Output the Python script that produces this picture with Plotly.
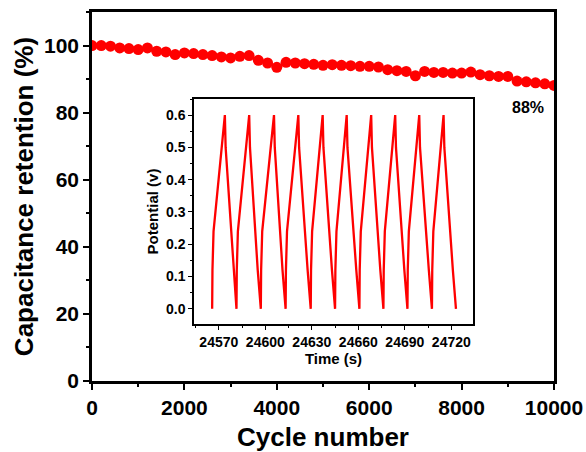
import plotly.graph_objects as go

# ---- main data: capacitance retention vs cycle number ----
cycles = [i * 200 for i in range(51)]
retention = [100.0, 100.0, 99.8, 99.3, 99.1, 98.8, 99.3, 98.3, 98.1, 97.3,
             97.8, 97.6, 97.3, 97.0, 96.6, 96.3, 96.8, 97.0, 95.6, 94.8,
             93.5, 95.0, 94.8, 94.6, 94.4, 94.1, 94.3, 94.1, 94.0, 93.8,
             93.8, 93.6, 92.8, 92.5, 92.3, 91.0, 92.3, 92.0, 92.0, 91.8,
             91.8, 92.1, 91.3, 91.0, 90.8, 90.8, 89.4, 89.2, 88.9, 88.6,
             88.1]

# ---- inset data: GCD curves ----
time_s = [24565.7, 24565.9, 24566.6, 24573.9, 24574.4, 24579.4, 24581.4,
          24581.6, 24582.3, 24589.6, 24590.1, 24595.1, 24597.1,
          24597.3, 24598.0, 24605.6, 24606.1, 24611.1, 24613.1,
          24613.3, 24614.0, 24621.3, 24621.8, 24627.3, 24629.3,
          24629.5, 24630.2, 24637.0, 24637.5, 24643.0, 24645.0,
          24645.2, 24645.9, 24652.5, 24653.0, 24658.7, 24660.7,
          24660.9, 24661.6, 24668.3, 24668.8, 24674.2, 24676.2,
          24676.4, 24677.1, 24683.8, 24684.3, 24689.7, 24691.7,
          24691.9, 24692.6, 24699.3, 24699.8, 24705.5, 24707.5,
          24707.7, 24708.4, 24715.0, 24715.5, 24721.0, 24723.0]
potential = [0.0, 0.12, 0.24, 0.60, 0.50, 0.12, 0.0,
             0.12, 0.24, 0.60, 0.50, 0.12, 0.0,
             0.12, 0.24, 0.60, 0.50, 0.12, 0.0,
             0.12, 0.24, 0.60, 0.50, 0.12, 0.0,
             0.12, 0.24, 0.60, 0.50, 0.12, 0.0,
             0.12, 0.24, 0.60, 0.50, 0.12, 0.0,
             0.12, 0.24, 0.60, 0.50, 0.12, 0.0,
             0.12, 0.24, 0.60, 0.50, 0.12, 0.0,
             0.12, 0.24, 0.60, 0.50, 0.12, 0.0,
             0.12, 0.24, 0.60, 0.50, 0.12, 0.0]

x_ticks = [0, 2000, 4000, 6000, 8000, 10000]
x_tick_labels = ["0", "2000", "4000", "6000", "8000", "10000"]
y_ticks = [0, 20, 40, 60, 80, 100]
y_tick_labels = ["0", "20", "40", "60", "80", "100"]
inset_x_ticks = [24570, 24600, 24630, 24660, 24690, 24720]
inset_x_labels = ["24570", "24600", "24630", "24660", "24690", "24720"]
inset_y_ticks = [0.0, 0.1, 0.2, 0.3, 0.4, 0.5, 0.6]
inset_y_labels = ["0.0", "0.1", "0.2", "0.3", "0.4", "0.5", "0.6"]

RED = "#ff0000"
FONT = "Liberation Sans"

fig = go.Figure()
fig.add_trace(go.Scatter(
    x=cycles, y=retention, mode="lines+markers",
    line=dict(color=RED, width=2),
    marker=dict(color=RED, size=11),
    xaxis="x", yaxis="y", showlegend=False, cliponaxis=True))
fig.add_trace(go.Scatter(
    x=time_s, y=potential, mode="lines",
    line=dict(color=RED, width=2.3),
    xaxis="x2", yaxis="y2", showlegend=False))

tick_font = dict(family=FONT, size=21, color="black", weight="bold")
title_font = dict(family=FONT, size=26, color="black", weight="bold")
in_tick_font = dict(family=FONT, size=14, color="black", weight="bold")
in_title_font = dict(family=FONT, size=15, color="black", weight="bold")

fig.update_layout(
    width=586, height=452,
    margin=dict(l=92, r=32, t=12, b=71),
    paper_bgcolor="white", plot_bgcolor="white",
    template=None,
    xaxis=dict(domain=[0, 1], range=[0, 10000], tickvals=x_ticks, ticktext=x_tick_labels,
               showline=True, linewidth=2.5, linecolor="black", mirror=True,
               ticks="outside", ticklen=6, tickwidth=2, tickcolor="black",
               minor=dict(dtick=1000, ticks="outside", ticklen=3, tickwidth=2, tickcolor="black"),
               showgrid=False, zeroline=False, tickfont=tick_font,
               title=dict(text="Cycle number", font=title_font, standoff=14),
               automargin=False),
    yaxis=dict(domain=[0, 1], range=[0, 110], tickvals=y_ticks, ticktext=y_tick_labels,
               showline=True, linewidth=2.5, linecolor="black", mirror=True,
               ticks="outside", ticklen=6, tickwidth=2, tickcolor="black",
               minor=dict(dtick=10, ticks="outside", ticklen=3, tickwidth=2, tickcolor="black"),
               showgrid=False, zeroline=False, tickfont=tick_font,
               title=dict(text="Capacitance retention (%)", font=title_font, standoff=3),
               automargin=False),
    xaxis2=dict(domain=[0.2208, 0.8247], anchor="y2", range=[24554, 24734],
                tickvals=inset_x_ticks, ticktext=inset_x_labels,
                showline=True, linewidth=1.5, linecolor="black", mirror=True,
                ticks="outside", ticklen=4, tickwidth=1.3, tickcolor="black",
                minor=dict(dtick=15, ticks="outside", ticklen=2.5, tickwidth=1.3, tickcolor="black"),
                showgrid=False, zeroline=False, tickfont=in_tick_font,
                title=dict(text="Time (s)", font=in_title_font, standoff=3),
                automargin=False),
    yaxis2=dict(domain=[0.1545, 0.7642], anchor="x2", range=[-0.047, 0.65],
                tickvals=inset_y_ticks, ticktext=inset_y_labels,
                showline=True, linewidth=1.5, linecolor="black", mirror=True,
                ticks="outside", ticklen=4, tickwidth=1.3, tickcolor="black",
                minor=dict(dtick=0.05, ticks="outside", ticklen=2.5, tickwidth=1.3, tickcolor="black"),
                showgrid=False, zeroline=False, tickfont=in_tick_font,
                title=dict(text="Potential (v)", font=in_title_font, standoff=4),
                automargin=False),
    annotations=[dict(x=9430, y=81.5, xref="x", yref="y", text="88%",
                      showarrow=False,
                      font=dict(family=FONT, size=16, color="black", weight="bold"))],
)

fig.write_html("out.html",
               config={"displayModeBar": False},
               post_script="document.body.style.margin='0';document.body.style.padding='0';")
